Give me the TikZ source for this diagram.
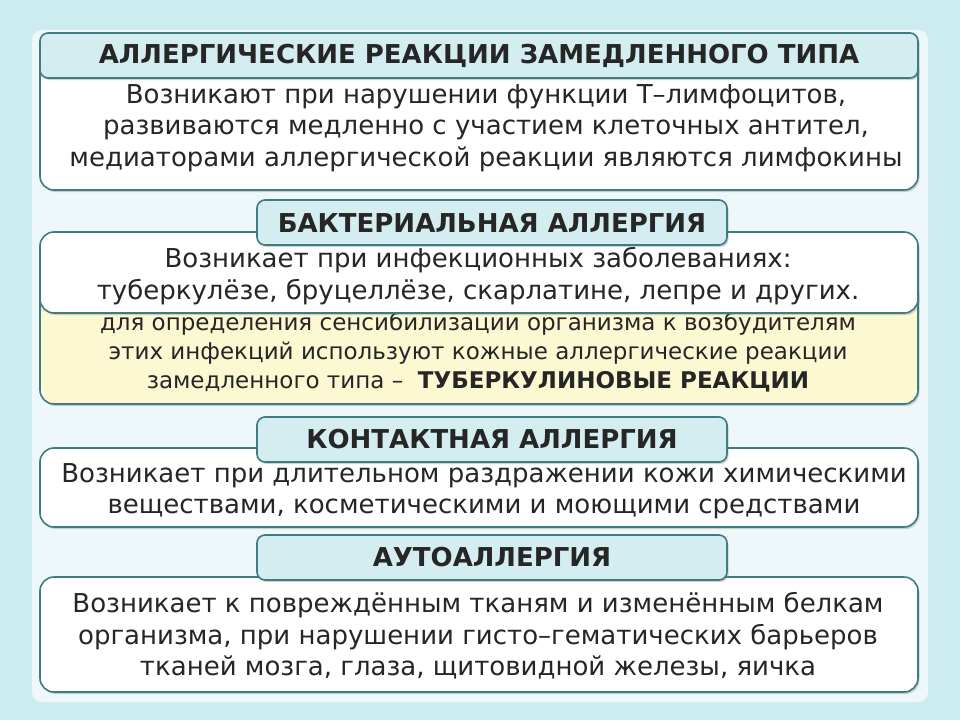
\documentclass[tikz,border=0pt]{standalone}
\usepackage{fontspec}
\setmainfont{DejaVu Sans}
\usetikzlibrary{shadows}
\definecolor{bg}{HTML}{CDECEF}
\definecolor{panel}{HTML}{EEF8FA}
\definecolor{edge}{HTML}{3F7C80}
\definecolor{head}{HTML}{D3EDF1}
\definecolor{yel}{HTML}{FBF8D2}
\tikzset{x=1pt,y=-1pt,
 bodybox/.style={draw=edge,line width=1.6pt,rounded corners=14pt,fill=white,drop shadow={opacity=0.35,shadow xshift=1.5pt,shadow yshift=-2pt}},
 headbox/.style={draw=edge,line width=1.6pt,rounded corners=8pt,fill=head,drop shadow={opacity=0.35,shadow xshift=1.5pt,shadow yshift=-2pt}},
 htxt/.style={font=\fontsize{26}{30}\selectfont\bfseries,text=black!85},
 btxt/.style={font=\fontsize{26}{31.5}\selectfont,text=black!85,align=center},
 ytxt/.style={font=\fontsize{23}{29}\selectfont,text=black!85,align=center}}
\begin{document}
\begin{tikzpicture}
\fill[bg] (0,0) rectangle (960,720);
\useasboundingbox (0,0) rectangle (960,720);
\fill[panel,rounded corners=10pt] (32,30) rectangle (928,702);
% box 1
\draw[bodybox] (40,55) rectangle (918,190);
\draw[headbox] (40,33) rectangle (918,78);
\node[htxt] (h1) at (479,56) {АЛЛЕРГИЧЕСКИЕ РЕАКЦИИ ЗАМЕДЛЕННОГО ТИПА};
\node[btxt] (t1) at (486,128) {Возникают при нарушении функции Т–лимфоцитов,\\развиваются медленно с участием клеточных антител,\\медиаторами аллергической реакции являются лимфокины};
% box 2
\draw[bodybox,fill=yel] (40,280) rectangle (918,404);
\node[ytxt] (y2) at (478,352) {для определения сенсибилизации организма к возбудителям\\этих инфекций используют кожные аллергические реакции\\замедленного типа –\ \ \textbf{ТУБЕРКУЛИНОВЫЕ РЕАКЦИИ}};
\draw[bodybox] (40,232) rectangle (918,313);
\node[btxt] (t2) at (478,276) {Возникает при инфекционных заболеваниях:\\туберкулёзе, бруцеллёзе, скарлатине, лепре и других.};
\draw[headbox] (257,200) rectangle (727,245);
\node[htxt] (h2) at (492,223) {БАКТЕРИАЛЬНАЯ АЛЛЕРГИЯ};
% box 3
\draw[bodybox] (40,448) rectangle (918,527);
\node[btxt] (t3) at (484,491) {Возникает при длительном раздражении кожи химическими\\веществами, косметическими и моющими средствами};
\draw[headbox] (257,417) rectangle (727,462);
\node[htxt] (h3) at (492,439) {КОНТАКТНАЯ АЛЛЕРГИЯ};
% box 4
\draw[bodybox] (40,577) rectangle (918,692);
\node[btxt] (t4) at (478,636) {Возникает к повреждённым тканям и изменённым белкам\\организма, при нарушении гисто–гематических барьеров\\тканей мозга, глаза, щитовидной железы, яичка};
\draw[headbox] (257,535) rectangle (727,580);
\node[htxt] (h4) at (492,557) {АУТОАЛЛЕРГИЯ};
\end{tikzpicture}
\end{document}
